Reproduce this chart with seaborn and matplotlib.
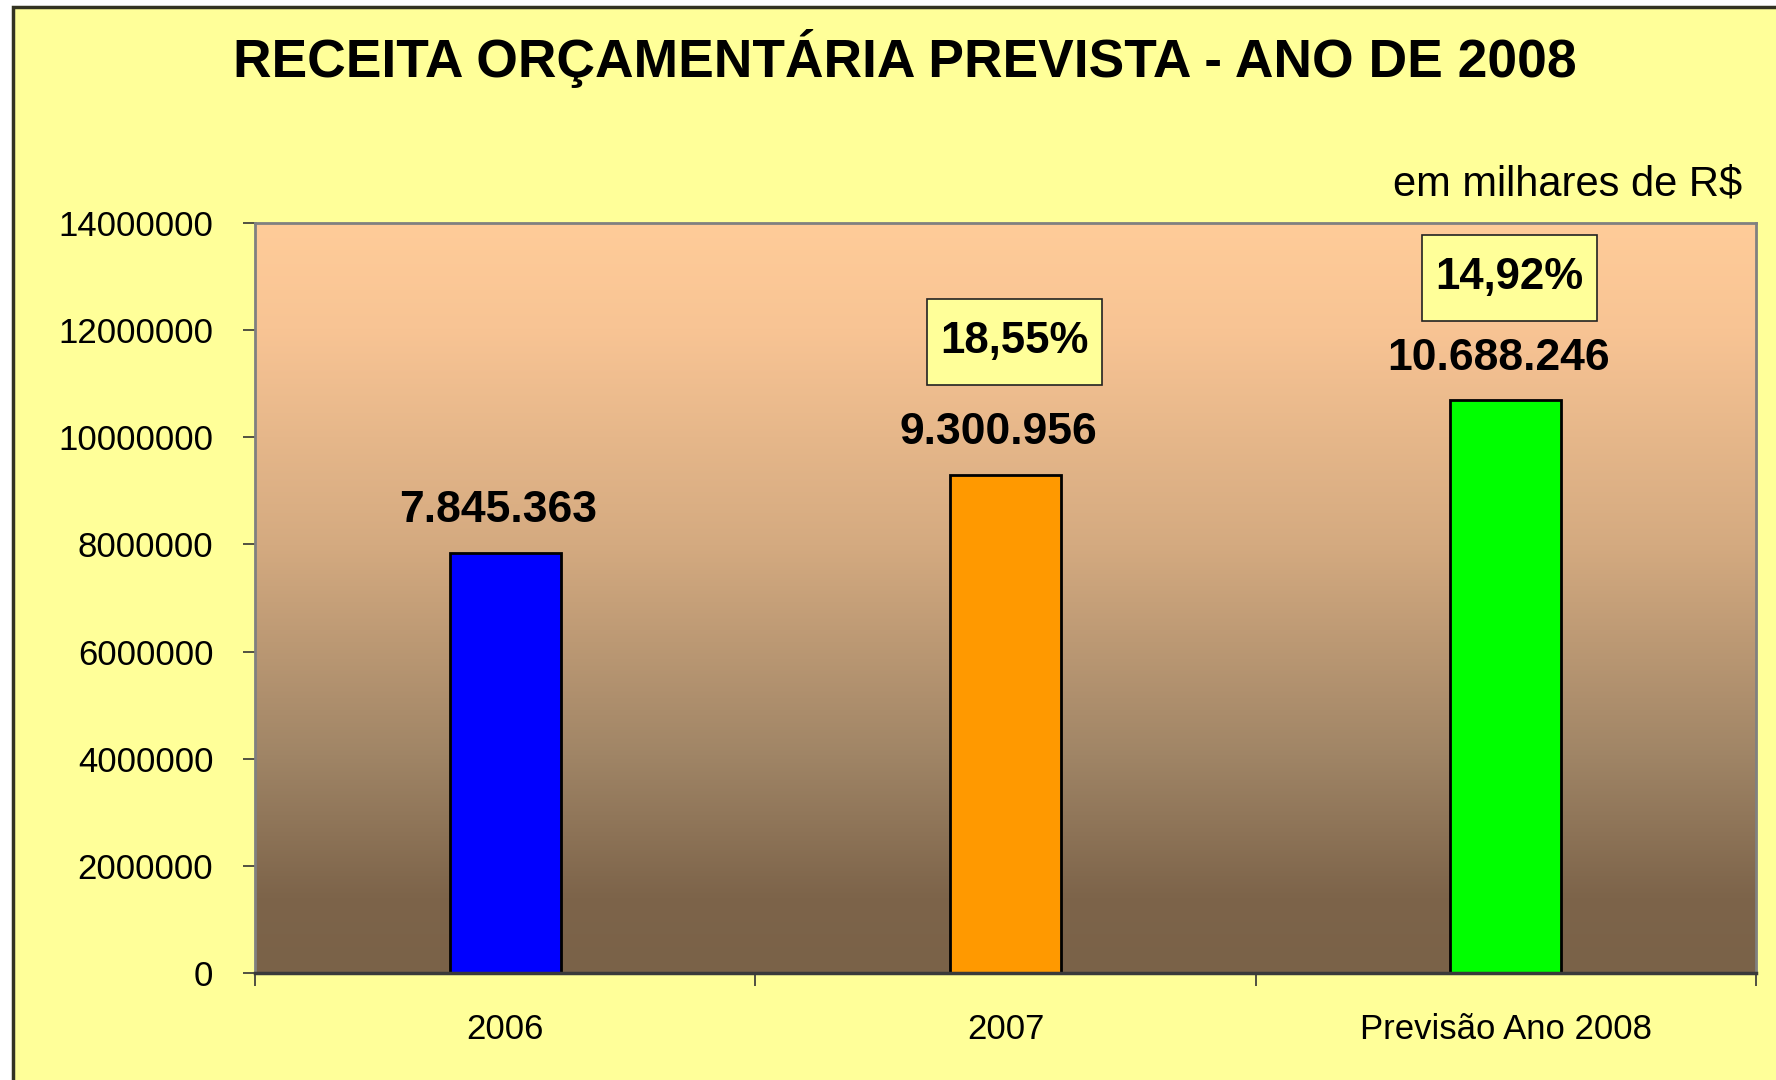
import numpy as np
import pandas as pd
import matplotlib
matplotlib.use("Agg")
import matplotlib.pyplot as plt
from matplotlib.colors import LinearSegmentedColormap
from matplotlib.patches import Rectangle
from matplotlib.transforms import ScaledTranslation
import seaborn as sns

# data
categories = ["2006", "2007", "Previsão Ano 2008"]
receita = [7845363, 9300956, 10688246]
value_labels = ["7.845.363", "9.300.956", "10.688.246"]
growth_labels = [None, "18,55%", "14,92%"]
bar_colors = ["#0000FF", "#FF9900", "#00FF00"]
yticks = [0, 2000000, 4000000, 6000000, 8000000, 10000000, 12000000, 14000000]

df = pd.DataFrame({"ano": categories, "receita": receita})

sns.set_theme(style="white")
plt.rcParams["font.family"] = ["Liberation Sans", "DejaVu Sans"]
plt.rcParams["text.color"] = "black"
plt.rcParams["xtick.color"] = "black"
plt.rcParams["ytick.color"] = "black"

bg = "#FFFF99"
fig = plt.figure(figsize=(17.76, 10.8), dpi=100)
fig.patch.set_facecolor("white")

# outer frame of the chart area (white margin at top/left)
fig.patches.append(Rectangle((13 / 1776, -0.05), 1.1, 1 - 7 / 1080 + 0.05,
                             transform=fig.transFigure, facecolor=bg,
                             edgecolor="#333322", linewidth=2.5, zorder=-5))

ax = fig.add_axes([255 / 1776, 1 - 973 / 1080, (1756 - 255) / 1776, (973 - 223) / 1080])
ax.set_facecolor("none")
ax.set_zorder(2)

# gradient plot background (dark brown at bottom -> peach at top)
grad_cmap = LinearSegmentedColormap.from_list(
    "bg", [(0.0, "#7A6248"), (0.1, "#7D644A"), (0.29, "#A08566"),
           (0.57, "#D4AA80"), (0.86, "#F8C494"), (1.0, "#FFCC99")])
grad = np.linspace(0, 1, 256).reshape(-1, 1)
ax.imshow(grad, cmap=grad_cmap, aspect="auto", extent=[0, 1, 0, 1],
          transform=ax.transAxes, origin="lower", zorder=0)

sns.barplot(data=df, x="ano", y="receita", hue="ano", palette=bar_colors,
            saturation=1, width=0.222, edgecolor="black", linewidth=2,
            legend=False, ax=ax, zorder=3)

ax.set_xlim(-0.5, 2.5)
ax.set_ylim(0, 14000000)
ax.set_yticks(yticks)
ax.set_yticklabels([str(t) for t in yticks])
ax.set_xlabel("")
ax.set_ylabel("")

ax.set_xticks(np.arange(len(categories)))
ax.set_xticklabels(categories)
ax.set_xticks([-0.5, 0.5, 1.5, 2.5], minor=True)
ax.tick_params(axis="x", which="major", length=0, pad=28.5, labelsize=25,
               labelcolor="black")
ax.tick_params(axis="x", which="minor", length=9, width=1.2, color="#333333",
               direction="out", bottom=True)
ax.tick_params(axis="y", which="major", length=9, width=1.2, color="#333333",
               direction="out", left=True, pad=21, labelsize=25, labelcolor="black")

for side in ["top", "right", "left"]:
    ax.spines[side].set_color("#808080")
    ax.spines[side].set_linewidth(2)
    ax.spines[side].set_visible(True)
ax.spines["bottom"].set_color("#3A3A3A")
ax.spines["bottom"].set_linewidth(2.5)
ax.spines["bottom"].set_visible(True)
for s in ax.spines.values():
    s.set_zorder(4)

# value labels above the bars
for i, (v, lab) in enumerate(zip(receita, value_labels)):
    ax.annotate(lab, xy=(i, v), xytext=(-5, 30.5), textcoords="offset points",
                ha="center", va="center", fontsize=32, fontweight="bold",
                color="black", zorder=5)

# growth boxes (offsets in inches from the bar top)
box_dx = [0, 0.09, 0.035]
box_dy = [0, 1.33, 1.225]
box_w, box_h = 1.75, 0.86
for i, (v, g) in enumerate(zip(receita, growth_labels)):
    if g is None:
        continue
    tr = fig.dpi_scale_trans + ScaledTranslation(i, v, ax.transData)
    ax.add_patch(Rectangle((box_dx[i] - box_w / 2, box_dy[i] - box_h / 2), box_w, box_h,
                           transform=tr, facecolor=bg, edgecolor="#222222",
                           linewidth=1.2, zorder=5, clip_on=False))
    ax.text(box_dx[i], box_dy[i], g, transform=tr, ha="center", va="center",
            fontsize=31.5, fontweight="bold", color="black", zorder=6)

fig.text(905 / 1776, 1 - 59 / 1080, "RECEITA ORÇAMENTÁRIA PREVISTA - ANO DE 2008",
         ha="center", va="center", fontsize=38.4, fontweight="bold", color="black")
fig.text(1742 / 1776, 1 - 184 / 1080, "em milhares de R$",
         ha="right", va="center", fontsize=30, color="black")

fig.savefig("out.png", dpi=100, facecolor=fig.get_facecolor())
